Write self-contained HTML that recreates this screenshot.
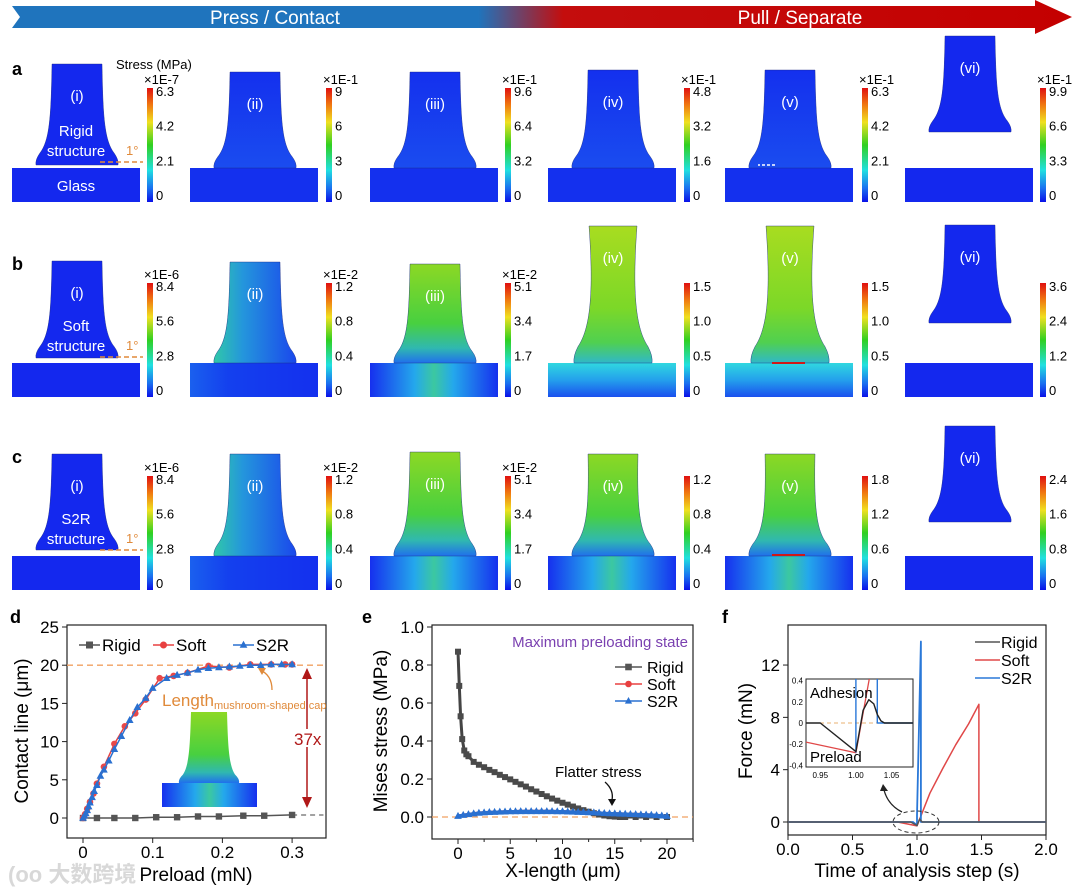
<!DOCTYPE html>
<html><head><meta charset="utf-8">
<style>
html,body{margin:0;padding:0;background:#fff;}
svg{display:block;font-family:"Liberation Sans","Noto Sans CJK SC",sans-serif;}
</style></head>
<body>
<svg id="fig" width="1080" height="896" viewBox="0 0 1080 896" xmlns="http://www.w3.org/2000/svg">
<defs>
  <linearGradient id="topArrow" x1="0" x2="1" y1="0" y2="0">
    <stop offset="0" stop-color="#1f74bd"/><stop offset="0.44" stop-color="#1f74bd"/>
    <stop offset="0.52" stop-color="#c40d0d"/><stop offset="1" stop-color="#c40000"/>
  </linearGradient>
  <linearGradient id="cbar" x1="0" x2="0" y1="0" y2="1">
    <stop offset="0" stop-color="#e01010"/><stop offset="0.15" stop-color="#f07a10"/>
    <stop offset="0.3" stop-color="#f0e020"/><stop offset="0.5" stop-color="#30d020"/>
    <stop offset="0.72" stop-color="#20e0e0"/><stop offset="0.88" stop-color="#1a70f0"/>
    <stop offset="1" stop-color="#0a10e8"/>
  </linearGradient>
  <linearGradient id="aStem" x1="0" x2="0" y1="0" y2="1">
    <stop offset="0" stop-color="#1430ee"/><stop offset="1" stop-color="#1a4cef"/>
  </linearGradient>
  <linearGradient id="bII" x1="0" x2="1" y1="0" y2="0">
    <stop offset="0" stop-color="#30c8a8"/><stop offset="0.35" stop-color="#2496dc"/><stop offset="1" stop-color="#1a48ec"/>
  </linearGradient>
  <linearGradient id="bIII" x1="0" x2="0" y1="0" y2="1">
    <stop offset="0" stop-color="#8cd824"/><stop offset="0.6" stop-color="#48d040"/><stop offset="0.85" stop-color="#30b8b0"/><stop offset="1" stop-color="#2070ec"/>
  </linearGradient>
  <linearGradient id="bIV" x1="0" x2="0" y1="0" y2="1">
    <stop offset="0" stop-color="#a8dc20"/><stop offset="0.6" stop-color="#7cd828"/><stop offset="0.85" stop-color="#50d050"/><stop offset="1" stop-color="#30b8c8"/>
  </linearGradient>
  <linearGradient id="glassMid" x1="0" x2="1" y1="0" y2="0">
    <stop offset="0" stop-color="#1630ee"/><stop offset="0.35" stop-color="#24a8ec"/><stop offset="0.5" stop-color="#3cc8a0"/><stop offset="0.65" stop-color="#24a8ec"/><stop offset="1" stop-color="#1630ee"/>
  </linearGradient>
  <linearGradient id="glassHi" x1="0" x2="0" y1="0" y2="1">
    <stop offset="0" stop-color="#30d8e0"/><stop offset="0.5" stop-color="#24a0ec"/><stop offset="1" stop-color="#1a50ee"/>
  </linearGradient>
  <linearGradient id="glassLow" x1="0" x2="1" y1="0" y2="0">
    <stop offset="0" stop-color="#1a60ee"/><stop offset="0.3" stop-color="#1440ee"/><stop offset="1" stop-color="#1430ee"/>
  </linearGradient>
</defs>

<g>
  <polygon points="12,6 1035,6 1035,0 1072,17 1035,34 1035,28 12,28 20,17" fill="url(#topArrow)"/>
  <text x="275" y="24" font-size="19" fill="#fff" text-anchor="middle">Press / Contact</text>
  <text x="800" y="24" font-size="19" fill="#fff" text-anchor="middle">Pull / Separate</text>
</g>

<g id="sims"></g>
<g id="chartD"></g>
<g id="chartE"></g>
<g id="chartF"></g>

<text x="8" y="882" font-size="22" fill="#cfcfcf" font-weight="bold" opacity="0.8">(oo 大数跨境</text>
</svg>

<script>
// ===== chart d data =====
const dRigidX = [0,0.02,0.045,0.075,0.105,0.135,0.165,0.195,0.23,0.26,0.3];
const dRigidY = [0,0,0,0,0.1,0.1,0.2,0.2,0.3,0.3,0.4];
const dSoftX = [0,0.003,0.006,0.01,0.015,0.02,0.03,0.045,0.06,0.075,0.09,0.11,0.13,0.15,0.18,0.21,0.24,0.27,0.29,0.3];
const dSoftY = [0,0.5,1.2,2.1,3.2,4.5,6.7,9.7,12,13.7,15.5,18.3,18.6,19.0,19.9,19.7,20.1,20.1,20.1,20.1];
const dS2RX = [0,0.002,0.004,0.006,0.008,0.01,0.013,0.016,0.02,0.025,0.03,0.037,0.045,0.055,0.067,0.078,0.09,0.1,0.12,0.135,0.15,0.165,0.18,0.195,0.21,0.225,0.24,0.255,0.27,0.285,0.3];
const dS2RY = [0,0.3,0.6,1,1.5,2,2.7,3.5,4.3,5.5,6.3,7.5,9,10.7,12.8,14.5,15.7,17,18.3,18.7,19,19.4,19.6,19.7,19.8,19.9,20,20,20.1,20.1,20.1];
const dXTicks = [0,0.1,0.2,0.3];
const dYTicks = [0,5,10,15,20,25];

// ===== chart e data =====
const eRigidX = [0,0.12,0.25,0.4,0.6,0.8,1,1.5,2,2.5,3,3.5,4,4.5,5,5.5,6,6.5,7,7.5,8,8.5,9,9.5,10,10.5,11,11.5,12,12.5,13,13.5,14,14.5,15,15.5,16,17,18,19,20];
const eRigidY = [0.87,0.69,0.53,0.41,0.35,0.33,0.32,0.29,0.275,0.262,0.248,0.236,0.222,0.21,0.198,0.185,0.172,0.16,0.146,0.134,0.121,0.109,0.097,0.086,0.075,0.065,0.055,0.045,0.036,0.028,0.02,0.013,0.008,0.004,0.002,0,0,0,0,0,0];
const eS2RX = [0,0.5,1,1.5,2,2.5,3,3.5,4,4.5,5,5.5,6,6.5,7,7.5,8,8.5,9,9.5,10,10.5,11,11.5,12,12.5,13,13.5,14,14.5,15,15.5,16,16.5,17,17.5,18,18.5,19,19.5,20];
const eS2RY = [0.005,0.01,0.014,0.018,0.021,0.023,0.025,0.026,0.027,0.028,0.029,0.029,0.03,0.03,0.03,0.03,0.03,0.03,0.03,0.029,0.029,0.028,0.027,0.026,0.025,0.024,0.023,0.022,0.02,0.019,0.018,0.017,0.016,0.015,0.014,0.013,0.012,0.011,0.009,0.007,0.005];
const eXTicks = [0,5,10,15,20];
const eYTicks = [0,0.2,0.4,0.6,0.8,1.0];

// ===== chart f data =====
const fRigidX = [0,0.95,1.0,1.02,1.04,2.0];
const fRigidY = [0,0,-0.27,0.22,0,0];
const fSoftX = [0,0.85,1.0,1.1,1.2,1.3,1.4,1.48,1.48,2.0];
const fSoftY = [0,0,-0.3,2.2,4.1,5.9,7.5,9.0,0,0];
const fS2RX = [0,0.97,1.0,1.0,1.03,1.03,2.0];
const fS2RY = [0,0,-0.25,0.5,13.8,0,0];
const fXTicks = [0,0.5,1.0,1.5,2.0];
const fYTicks = [0,4,8,12];
// inset
const iRigidX = [0.93,0.95,1.0,1.01,1.018,1.025,1.03,1.035,1.04,1.08];
const iRigidY = [0,0,-0.27,0.12,0.22,0.18,0.08,0.02,0,0];
const iSoftX = [0.93,1.0,1.021];
const iSoftY = [-0.18,-0.28,0.5];
const iS2RX = [1.0,1.0,1.03,1.03,1.08];
const iS2RY = [-0.28,0.5,0.5,0,0];
const iXTicks = [0.95,1.00,1.05];
const iYTicks = [-0.4,-0.2,0,0.2,0.4];

const NS = 'http://www.w3.org/2000/svg';
function el(parent, tag, attrs, name) {
  const e = document.createElementNS(NS, tag);
  for (const k in attrs) e.setAttribute(k, attrs[k]);
  
  
  parent.appendChild(e);
  return e;
}
function txt(parent, x, y, s, size, name, extra) {
  const a = Object.assign({x: x, y: y, 'font-size': size, fill: '#000'}, extra || {});
  const t = el(parent, 'text', a, name);
  t.textContent = s;
  return t;
}

// ===== simulation panels =====
const sims = document.getElementById('sims');
const colX = [12,190,370,548,725,905];
const cbX = [147,326,505,684,862,1040];
const rowGlass = [168,363,556];
const rowLetters = ['a','b','c'];
const romans = ['(i)','(ii)','(iii)','(iv)','(v)','(vi)'];
const mults = [['×1E-7','×1E-1','×1E-1','×1E-1','×1E-1','×1E-1'],
               ['×1E-6','×1E-2','×1E-2','','',''],
               ['×1E-6','×1E-2','×1E-2','','','']];
const ticks = [[['6.3','4.2','2.1','0'],['9','6','3','0'],['9.6','6.4','3.2','0'],['4.8','3.2','1.6','0'],['6.3','4.2','2.1','0'],['9.9','6.6','3.3','0']],
               [['8.4','5.6','2.8','0'],['1.2','0.8','0.4','0'],['5.1','3.4','1.7','0'],['1.5','1.0','0.5','0'],['1.5','1.0','0.5','0'],['3.6','2.4','1.2','0']],
               [['8.4','5.6','2.8','0'],['1.2','0.8','0.4','0'],['5.1','3.4','1.7','0'],['1.2','0.8','0.4','0'],['1.8','1.2','0.6','0'],['2.4','1.6','0.8','0']]];
// [top, bottom, stemHalf, baseHalf, pinch, fill, glassFill]
const shapes = [
 [[64,165,25,41,0,'#1428ee','#1428ee'],[72,168,25,41,0,'url(#aStem)','#1430ee'],[72,168,25,41,0,'url(#aStem)','#1430ee'],[70,168,25,41,0,'url(#aStem)','#1430ee'],[70,168,25,41,0,'url(#aStem)','#1430ee'],[36,132,25,41,0,'#1428ee','#1428ee']],
 [[261,358,25,41,0,'#1428ee','#1428ee'],[262,363,25,41,0,'url(#bII)','url(#glassLow)'],[264,363,25,41,0,'url(#bIII)','url(#glassMid)'],[226,363,24,39,6,'url(#bIV)','url(#glassHi)'],[226,363,24,39,6,'url(#bIV)','url(#glassHi)'],[225,323,25,41,0,'#1428ee','#1428ee']],
 [[454,550,25,41,0,'#1428ee','#1428ee'],[454,556,25,41,0,'url(#bII)','url(#glassLow)'],[452,556,25,41,0,'url(#bIII)','url(#glassMid)'],[454,556,25,41,2,'url(#bIII)','url(#glassMid)'],[454,556,25,41,2,'url(#bIII)','url(#glassMid)'],[426,522,25,41,0,'#1428ee','#1428ee']]
];
function mushPath(cx, top, bot, s, b, p) {
  const h = bot - top;
  const r = `M${cx-s},${top} L${cx+s},${top} C${cx+s+1-p},${top+h*0.5} ${cx+s+2-p*0.5},${bot-h*0.25} ${cx+b-4},${bot-h*0.12} Q${cx+b+1},${bot-h*0.05} ${cx+b},${bot}`;
  const l = ` L${cx-b},${bot} Q${cx-b-1},${bot-h*0.05} ${cx-b+4},${bot-h*0.12} C${cx-s-2+p*0.5},${bot-h*0.25} ${cx-s-1+p},${top+h*0.5} ${cx-s},${top} Z`;
  return r + l;
}
for (let r = 0; r < 3; r++) {
  txt(sims, 12, rowGlass[r] - 93, rowLetters[r], 18, 'panel-label-' + rowLetters[r], {'font-weight': 'bold'});
  for (let c = 0; c < 6; c++) {
    const g = el(sims, 'g', {}, 'sim-' + rowLetters[r] + '-' + (c + 1));
    const sp = shapes[r][c];
    const gx = colX[c], gy = rowGlass[r];
    el(g, 'rect', {x: gx, y: gy, width: 128, height: 34, fill: sp[6]}, 'glass-substrate');
    const cx = gx + 65;
    el(g, 'path', {d: mushPath(cx, sp[0], sp[1], sp[2], sp[3], sp[4]), fill: sp[5], stroke: '#1a2a80', 'stroke-width': 0.4}, 'mushroom-structure');
    txt(g, cx, sp[0] + 37, romans[c], 15, 'state-label', {fill: '#fff', 'text-anchor': 'middle'});
    const cy0 = gy - 80, cy1 = gy + 34;
    el(g, 'rect', {x: cbX[c], y: cy0, width: 6, height: cy1 - cy0, fill: 'url(#cbar)'}, 'colorbar');
    if (mults[r][c]) txt(g, cbX[c] - 3, cy0 - 4, mults[r][c], 13, 'colorbar-multiplier');
    for (let k = 0; k < 4; k++) {
      const ty = cy0 + 8 + k * (cy1 - cy0 - 10) / 3;
      txt(g, cbX[c] + 9, ty, ticks[r][c][k], 13, 'colorbar-tick');
    }
  }
}
txt(sims, 116, 69, 'Stress (MPa)', 13, 'stress-unit-label');
txt(sims, 76, 136, 'Rigid', 15, 'rigid-structure-label', {fill: '#fff', 'text-anchor': 'middle'});
txt(sims, 76, 156, 'structure', 15, 'rigid-structure-label', {fill: '#fff', 'text-anchor': 'middle'});
txt(sims, 76, 191, 'Glass', 15, 'glass-label', {fill: '#fff', 'text-anchor': 'middle'});
txt(sims, 76, 331, 'Soft', 15, 'soft-structure-label', {fill: '#fff', 'text-anchor': 'middle'});
txt(sims, 76, 351, 'structure', 15, 'soft-structure-label', {fill: '#fff', 'text-anchor': 'middle'});
txt(sims, 76, 524, 'S2R', 15, 's2r-structure-label', {fill: '#fff', 'text-anchor': 'middle'});
txt(sims, 76, 544, 'structure', 15, 's2r-structure-label', {fill: '#fff', 'text-anchor': 'middle'});
for (let r = 0; r < 3; r++) {
  const yy = rowGlass[r] - 6;
  el(sims, 'line', {x1: 100, y1: yy, x2: 143, y2: yy, stroke: '#e08a3a', 'stroke-width': 1.5, 'stroke-dasharray': '5,3'}, 'angle-marker');
  txt(sims, 126, yy - 7, '1°', 13, 'angle-label', {fill: '#e08a3a'});
}
// arrows in (v)
el(sims, 'line', {x1: 775, y1: 165, x2: 758, y2: 165, stroke: '#fff', 'stroke-width': 1.5, 'stroke-dasharray': '3,2'}, 'crack-arrow');
el(sims, 'line', {x1: 772, y1: 363, x2: 805, y2: 363, stroke: '#d01818', 'stroke-width': 2}, 'separation-arrow');
el(sims, 'line', {x1: 772, y1: 555, x2: 805, y2: 555, stroke: '#d01818', 'stroke-width': 2}, 'separation-arrow');

// ===== generic helpers for charts =====
function frame(g, l, t, r, b) {
  el(g, 'rect', {x: l, y: t, width: r - l, height: b - t, fill: 'none', stroke: '#222', 'stroke-width': 1.2}, 'plot-frame');
}
function poly(g, xs, ys, X, Y, color, w, name) {
  const pts = xs.map((v, i) => X(v).toFixed(1) + ',' + Y(ys[i]).toFixed(1)).join(' ');
  return el(g, 'polyline', {points: pts, fill: 'none', stroke: color, 'stroke-width': w, 'stroke-linejoin': 'round'}, name);
}
function marker(g, type, x, y, color, s, name) {
  if (type === 'sq') el(g, 'rect', {x: x - s, y: y - s, width: 2 * s, height: 2 * s, fill: color}, name);
  else if (type === 'ci') el(g, 'circle', {cx: x, cy: y, r: s, fill: color}, name);
  else el(g, 'polygon', {points: `${x},${y - s * 1.2} ${x + s * 1.1},${y + s * 0.8} ${x - s * 1.1},${y + s * 0.8}`, fill: color}, name);
}

// ===== chart d =====
(function () {
  const g = document.getElementById('chartD');
  const X = v => 83 + v * 697, Y = v => 818 - v * 7.64;
  const L = 67, T = 625, R = 326, B = 838;
  txt(g, 10, 623, 'd', 18, 'panel-label-d', {'font-weight': 'bold'});
  frame(g, L, T, R, B);
  dXTicks.forEach(v => {
    el(g, 'line', {x1: X(v), y1: B, x2: X(v), y2: B + 5, stroke: '#222'}, 'x-tick');
    txt(g, X(v), B + 20, String(v), 17, 'x-tick-label', {'text-anchor': 'middle'});
  });
  dYTicks.forEach(v => {
    el(g, 'line', {x1: L - 5, y1: Y(v), x2: L, y2: Y(v), stroke: '#222'}, 'y-tick');
    txt(g, L - 8, Y(v) + 6, String(v), 17, 'y-tick-label', {'text-anchor': 'end'});
  });
  txt(g, 0, 0, 'Contact line (μm)', 19, 'y-axis-title', {'text-anchor': 'middle', transform: 'translate(28,731) rotate(-90)'});
  txt(g, 196, 881, 'Preload (mN)', 19, 'x-axis-title', {'text-anchor': 'middle'});
  // inset mushroom
  el(g, 'rect', {x: 162, y: 783, width: 95, height: 24, fill: 'url(#glassMid)'}, 'inset-glass');
  el(g, 'path', {d: mushPath(209, 712, 783, 18, 30, 0), fill: 'url(#bIII)'}, 'inset-mushroom');
  el(g, 'line', {x1: L, y1: Y(20), x2: R, y2: Y(20), stroke: '#f0a060', 'stroke-width': 1.3, 'stroke-dasharray': '6,4'}, 'cap-length-line');
  poly(g, dRigidX, dRigidY, X, Y, '#555', 1.5, 'rigid-line');
  el(g, 'line', {x1: X(0.3), y1: Y(0.4), x2: X(0.345), y2: Y(0.4), stroke: '#444', 'stroke-dasharray': '5,4'}, 'rigid-extension');
  dRigidX.forEach((v, i) => marker(g, 'sq', X(v), Y(dRigidY[i]), '#555', 3.2, 'rigid-point'));
  poly(g, dSoftX, dSoftY, X, Y, '#e84040', 1.5, 'soft-line');
  dSoftX.forEach((v, i) => marker(g, 'ci', X(v), Y(dSoftY[i]), '#e84848', 3.3, 'soft-point'));
  poly(g, dS2RX, dS2RY, X, Y, '#2a70d0', 1.5, 's2r-line');
  dS2RX.forEach((v, i) => marker(g, 'tr', X(v), Y(dS2RY[i]), '#2a70d0', 3.5, 's2r-point'));
  // legend
  const ly = 645;
  [['Rigid', 79, '#555', 'sq'], ['Soft', 153, '#e84040', 'ci'], ['S2R', 233, '#2a70d0', 'tr']].forEach(e => {
    el(g, 'line', {x1: e[1], y1: ly, x2: e[1] + 21, y2: ly, stroke: e[2], 'stroke-width': 1.5}, 'legend-line');
    marker(g, e[3], e[1] + 10.5, ly, e[2], 3.5, 'legend-marker');
    txt(g, e[1] + 23, ly + 6, e[0], 17, 'legend-entry');
  });
  const t = txt(g, 162, 706, 'Length', 17, 'cap-length-label', {fill: '#e08a3a'});
  const ts = document.createElementNS(NS, 'tspan');
  ts.setAttribute('font-size', '11');
  ts.setAttribute('dy', '3');
  ts.textContent = 'mushroom-shaped cap';
  t.appendChild(ts);
  el(g, 'path', {d: 'M272,690 Q272,675 260,670', fill: 'none', stroke: '#e08a3a', 'stroke-width': 1.3}, 'cap-pointer');
  el(g, 'polygon', {points: '258,668 266,668 262,675', fill: '#e08a3a'}, 'cap-pointer-head');
  el(g, 'line', {x1: 307, y1: 676, x2: 307, y2: 800, stroke: '#b01818', 'stroke-width': 1.5}, 'ratio-arrow');
  el(g, 'polygon', {points: '307,668 302,679 312,679', fill: '#b01818'}, 'ratio-arrow-head');
  el(g, 'polygon', {points: '307,808 302,797 312,797', fill: '#b01818'}, 'ratio-arrow-head');
  el(g, 'rect', {x: 294, y: 729, width: 28, height: 18, fill: '#fff'}, 'ratio-label-bg');
  txt(g, 294, 745, '37x', 17, 'ratio-label', {fill: '#b01818'});
})();

// ===== chart e =====
(function () {
  const g = document.getElementById('chartE');
  const X = v => 458 + v * 10.45, Y = v => 817 - v * 190;
  const L = 432, T = 625, R = 693, B = 839;
  txt(g, 362, 623, 'e', 18, 'panel-label-e', {'font-weight': 'bold'});
  frame(g, L, T, R, B);
  eXTicks.forEach(v => {
    el(g, 'line', {x1: X(v), y1: B, x2: X(v), y2: B + 5, stroke: '#222'}, 'x-tick');
    el(g, 'line', {x1: X(v + 2.5), y1: B, x2: X(v + 2.5), y2: B + 3, stroke: '#222'}, 'x-minor-tick');
    txt(g, X(v), B + 20, String(v), 17, 'x-tick-label', {'text-anchor': 'middle'});
  });
  eYTicks.forEach(v => {
    el(g, 'line', {x1: L - 5, y1: Y(v), x2: L, y2: Y(v), stroke: '#222'}, 'y-tick');
    txt(g, L - 8, Y(v) + 6, v.toFixed(1), 17, 'y-tick-label', {'text-anchor': 'end'});
  });
  txt(g, 0, 0, 'Mises stress (MPa)', 19, 'y-axis-title', {'text-anchor': 'middle', transform: 'translate(387,731) rotate(-90)'});
  txt(g, 563, 877, 'X-length (μm)', 19, 'x-axis-title', {'text-anchor': 'middle'});
  el(g, 'line', {x1: L, y1: Y(0), x2: R, y2: Y(0), stroke: '#f0a060', 'stroke-width': 1.3, 'stroke-dasharray': '6,4'}, 'zero-line');
  poly(g, eRigidX, eRigidY, X, Y, '#444', 3, 'rigid-line');
  eRigidX.forEach((v, i) => marker(g, 'sq', X(v), Y(eRigidY[i]), '#4a4a4a', 3, 'rigid-point'));
  poly(g, eS2RX, eS2RY, X, Y, '#e84040', 3, 'soft-line');
  poly(g, eS2RX, eS2RY, X, Y, '#2a70d0', 3, 's2r-line');
  eS2RX.forEach((v, i) => marker(g, 'tr', X(v), Y(eS2RY[i]), '#2a70d0', 3.5, 's2r-point'));
  txt(g, 688, 647, 'Maximum preloading state', 15, 'annotation-state', {fill: '#7a40b0', 'text-anchor': 'end'});
  [['Rigid', 667, '#555', 'sq'], ['Soft', 684, '#e84040', 'ci'], ['S2R', 701, '#2a70d0', 'tr']].forEach(e => {
    el(g, 'line', {x1: 615, y1: e[1], x2: 642, y2: e[1], stroke: e[2], 'stroke-width': 1.5}, 'legend-line');
    marker(g, e[3], 628.5, e[1], e[2], 3.3, 'legend-marker');
    txt(g, 647, e[1] + 6, e[0], 16, 'legend-entry');
  });
  txt(g, 555, 777, 'Flatter stress', 15, 'annotation-flatter');
  el(g, 'path', {d: 'M605,782 Q614,790 612,800', fill: 'none', stroke: '#111', 'stroke-width': 1.3}, 'flatter-arrow');
  el(g, 'polygon', {points: '608,799 616,799 612,806', fill: '#111'}, 'flatter-arrow-head');
})();

// ===== chart f =====
(function () {
  const g = document.getElementById('chartF');
  const X = v => 788 + v * 129, Y = v => 822 - v * 13.08;
  const L = 788, T = 625, R = 1046, B = 835;
  txt(g, 722, 623, 'f', 18, 'panel-label-f', {'font-weight': 'bold'});
  frame(g, L, T, R, B);
  fXTicks.forEach(v => {
    el(g, 'line', {x1: X(v), y1: B, x2: X(v), y2: B + 5, stroke: '#222'}, 'x-tick');
    txt(g, X(v), B + 20, v.toFixed(1), 17, 'x-tick-label', {'text-anchor': 'middle'});
  });
  fYTicks.forEach(v => {
    el(g, 'line', {x1: L - 5, y1: Y(v), x2: L, y2: Y(v), stroke: '#222'}, 'y-tick');
    txt(g, L - 8, Y(v) + 6, String(v), 17, 'y-tick-label', {'text-anchor': 'end'});
  });
  txt(g, 0, 0, 'Force (mN)', 19, 'y-axis-title', {'text-anchor': 'middle', transform: 'translate(752,731) rotate(-90)'});
  txt(g, 917, 877, 'Time of analysis step (s)', 19, 'x-axis-title', {'text-anchor': 'middle'});
  poly(g, fSoftX, fSoftY, X, Y, '#e04848', 1.5, 'soft-line');
  poly(g, fS2RX, fS2RY, X, Y, '#2a78d8', 1.8, 's2r-line');
  poly(g, fRigidX, fRigidY, X, Y, '#555', 1.5, 'rigid-line');
  [['Rigid', 642, '#555'], ['Soft', 660, '#e04848'], ['S2R', 678, '#2a78d8']].forEach(e => {
    el(g, 'line', {x1: 975, y1: e[1], x2: 1000, y2: e[1], stroke: e[2], 'stroke-width': 1.5}, 'legend-line');
    txt(g, 1001, e[1] + 6, e[0], 16, 'legend-entry');
  });
  el(g, 'ellipse', {cx: 916, cy: 822, rx: 23, ry: 11, fill: 'none', stroke: '#333', 'stroke-dasharray': '4,3'}, 'zoom-ellipse');
  el(g, 'path', {d: 'M902,812 Q888,805 884,790', fill: 'none', stroke: '#222', 'stroke-width': 1.3}, 'zoom-arrow');
  el(g, 'polygon', {points: '880,791 888,791 883,784', fill: '#222'}, 'zoom-arrow-head');
  // inset
  const iL = 806, iT = 679, iR = 913, iB = 767;
  const IX = v => iL + (v - 0.93) / 0.15 * (iR - iL), IY = v => 723 - v * 106;
  const ig = el(g, 'g', {}, 'inset-chart');
  el(ig, 'rect', {x: iL, y: iT, width: iR - iL, height: iB - iT, fill: '#fff', stroke: '#222'}, 'inset-frame');
  const cp = el(ig, 'clipPath', {id: 'inclip'}, 'inset-clip');
  el(cp, 'rect', {x: iL, y: iT, width: iR - iL, height: iB - iT}, 'inset-clip-rect');
  const inner = el(ig, 'g', {'clip-path': 'url(#inclip)'}, 'inset-series');
  el(inner, 'line', {x1: iL, y1: IY(0), x2: iR, y2: IY(0), stroke: '#e8b070', 'stroke-dasharray': '4,3'}, 'inset-zero-line');
  poly(inner, iSoftX, iSoftY, IX, IY, '#e04848', 1.3, 'inset-soft');
  poly(inner, iS2RX, iS2RY, IX, IY, '#2a78d8', 1.4, 'inset-s2r');
  poly(inner, iRigidX, iRigidY, IX, IY, '#222', 1.4, 'inset-rigid');
  iXTicks.forEach(v => txt(ig, IX(v), iB + 11, v.toFixed(2), 8, 'inset-x-tick-label', {'text-anchor': 'middle'}));
  iYTicks.forEach(v => txt(ig, iL - 3, IY(v) + 3, String(v), 8, 'inset-y-tick-label', {'text-anchor': 'end'}));
  txt(ig, 810, 698, 'Adhesion', 15, 'adhesion-label');
  txt(ig, 810, 762, 'Preload', 15, 'preload-label');
})();
</script>
</body></html>
